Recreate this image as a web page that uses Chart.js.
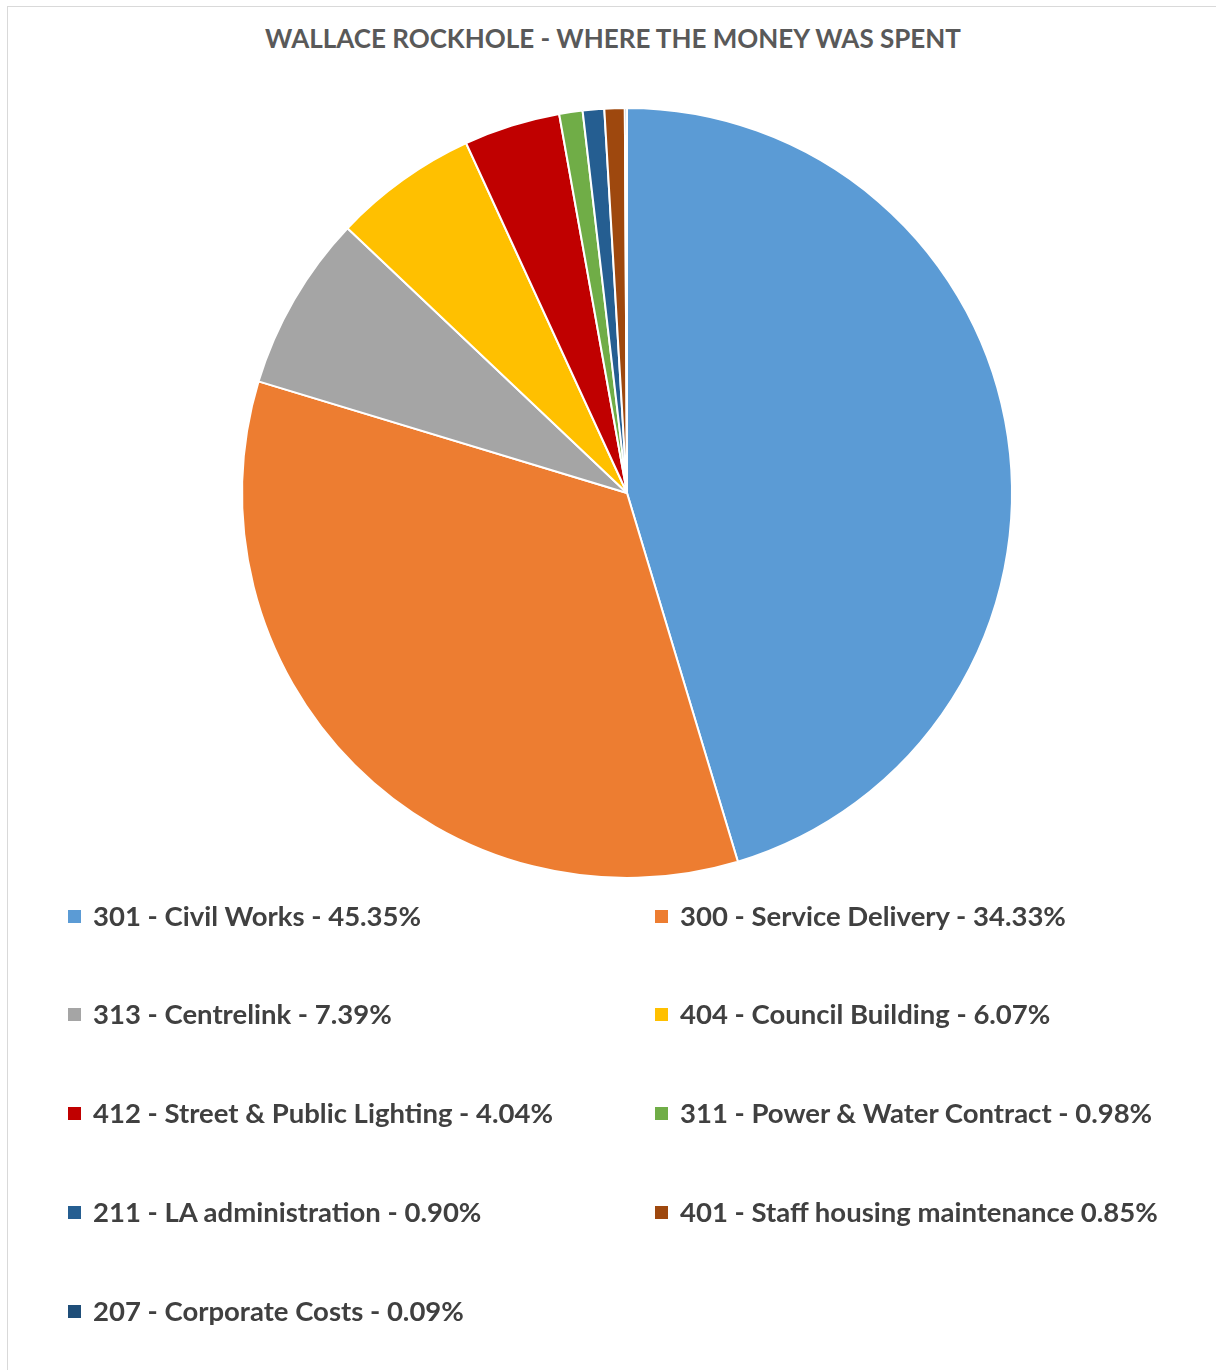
<!DOCTYPE html>
<html>
<head>
<meta charset="utf-8">
<script src="https://cdn.jsdelivr.net/npm/chart.js@4.4.1/dist/chart.umd.min.js"></script>
<style>
  html, body { margin: 0; padding: 0; background: #fff; overflow: hidden; }
  body { width: 1216px; height: 1370px; position: relative; }
  #frame {
    position: absolute; left: 7px; top: 6px; width: 1240px; height: 1400px;
    border: 1px solid #d9d9d9; box-sizing: border-box;
  }
  #title {
    position: absolute; left: 0; top: 22px; width: 1226px; text-align: center;
    font-family: Lato, "Open Sans", sans-serif; font-weight: 700; font-size: 26px;
    line-height: 32px; color: #595959; white-space: nowrap;
  }
  #wrap { position: absolute; left: 8px; top: 7px; width: 1210px; height: 880px; }
  #legend {
    position: absolute; left: 0; top: 0; width: 1216px; height: 1370px;
    font-family: Lato, "Open Sans", sans-serif; font-weight: 700; font-size: 27.5px;
    color: #404040; pointer-events: none;
  }
  .item { position: absolute; white-space: nowrap; line-height: 32px; height: 32px; }
  .box { position: absolute; width: 13px; height: 13px; top: 10px; left: 0; }
  .txt { position: absolute; left: 25px; top: 0; }
</style>
</head>
<body>
<div id="frame"></div>
<div id="title"></div>
<div id="wrap"><canvas id="chart" width="1210" height="880"></canvas></div>
<div id="legend"></div>
<script>
// Spending breakdown by cost centre (percent of total)
const categories = [
  "301 - Civil Works",
  "300 - Service Delivery",
  "313 - Centrelink",
  "404 - Council Building",
  "412 - Street & Public Lighting",
  "311 - Power & Water Contract",
  "211 - LA administration",
  "401 - Staff housing maintenance",
  "207 - Corporate Costs"
];
const shares = [45.35, 34.33, 7.39, 6.07, 4.04, 0.98, 0.90, 0.85, 0.09];
const separators = [" - ", " - ", " - ", " - ", " - ", " - ", " - ", " ", " - "];
const sliceColors = [
  "#5B9BD5", "#ED7D31", "#A5A5A5", "#FFC000", "#C00000",
  "#70AD47", "#255E91", "#9E480E", "#1F4E79"
];
const chartTitle = "WALLACE ROCKHOLE - WHERE THE MONEY WAS SPENT";

const legendText = categories.map((c, i) => c + separators[i] + shares[i].toFixed(2) + "%");

document.getElementById("title").textContent = chartTitle;

const chart = new Chart(document.getElementById("chart"), {
  type: "pie",
  data: {
    labels: legendText,
    datasets: [{
      data: shares,
      backgroundColor: sliceColors,
      borderColor: "#ffffff",
      borderWidth: 2
    }]
  },
  options: {
    responsive: false,
    animation: false,
    rotation: 0,
    layout: { padding: { left: 232, right: 204, top: 100, bottom: 8 } },
    plugins: {
      legend: { display: false },
      tooltip: { enabled: false },
      title: { display: false }
    }
  }
});

// Two-column legend below the pie
const legendEl = document.getElementById("legend");
const colX = [68, 655];
const rowY = [900, 998, 1097, 1196, 1295];
legendText.forEach((t, i) => {
  const item = document.createElement("div");
  item.className = "item";
  item.style.left = colX[i % 2] + "px";
  item.style.top = rowY[Math.floor(i / 2)] + "px";
  const box = document.createElement("span");
  box.className = "box";
  box.style.background = sliceColors[i];
  const txt = document.createElement("span");
  txt.className = "txt";
  txt.textContent = t;
  item.appendChild(box);
  item.appendChild(txt);
  legendEl.appendChild(item);
});
</script>
</body>
</html>
